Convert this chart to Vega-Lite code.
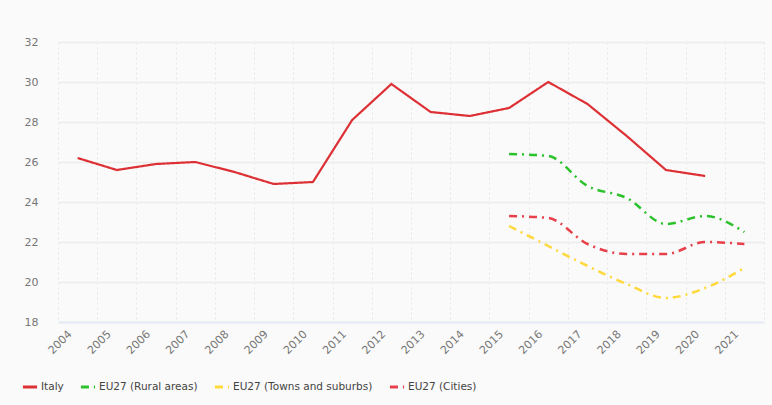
{
  "$schema": "https://vega.github.io/schema/vega-lite/v6.json",
  "autosize": "none",
  "width": 706,
  "height": 280,
  "padding": {"left": 58, "top": 42, "right": 8, "bottom": 83},
  "background": "#fafafa",
  "config": {
    "view": {"stroke": null, "fill": "#fafafa"},
    "font": "DejaVu Sans",
    "axis": {"labelColor": "#777777", "labelFontSize": 11, "titleColor": "#777777"}
  },
  "data": {
    "values": [
      {"year": "2004", "series": "Italy", "value": 26.2},
      {"year": "2005", "series": "Italy", "value": 25.6},
      {"year": "2006", "series": "Italy", "value": 25.9},
      {"year": "2007", "series": "Italy", "value": 26.0},
      {"year": "2008", "series": "Italy", "value": 25.5},
      {"year": "2009", "series": "Italy", "value": 24.9},
      {"year": "2010", "series": "Italy", "value": 25.0},
      {"year": "2011", "series": "Italy", "value": 28.1},
      {"year": "2012", "series": "Italy", "value": 29.9},
      {"year": "2013", "series": "Italy", "value": 28.5},
      {"year": "2014", "series": "Italy", "value": 28.3},
      {"year": "2015", "series": "Italy", "value": 28.7},
      {"year": "2016", "series": "Italy", "value": 30.0},
      {"year": "2017", "series": "Italy", "value": 28.9},
      {"year": "2018", "series": "Italy", "value": 27.3},
      {"year": "2019", "series": "Italy", "value": 25.6},
      {"year": "2020", "series": "Italy", "value": 25.3},
      {"year": "2015", "series": "EU27 (Rural areas)", "value": 26.4},
      {"year": "2016", "series": "EU27 (Rural areas)", "value": 26.3},
      {"year": "2017", "series": "EU27 (Rural areas)", "value": 24.8},
      {"year": "2018", "series": "EU27 (Rural areas)", "value": 24.2},
      {"year": "2019", "series": "EU27 (Rural areas)", "value": 22.9},
      {"year": "2020", "series": "EU27 (Rural areas)", "value": 23.3},
      {"year": "2021", "series": "EU27 (Rural areas)", "value": 22.5},
      {"year": "2015", "series": "EU27 (Towns and suburbs)", "value": 22.8},
      {"year": "2016", "series": "EU27 (Towns and suburbs)", "value": 21.8},
      {"year": "2017", "series": "EU27 (Towns and suburbs)", "value": 20.8},
      {"year": "2018", "series": "EU27 (Towns and suburbs)", "value": 19.9},
      {"year": "2019", "series": "EU27 (Towns and suburbs)", "value": 19.2},
      {"year": "2020", "series": "EU27 (Towns and suburbs)", "value": 19.7},
      {"year": "2021", "series": "EU27 (Towns and suburbs)", "value": 20.7},
      {"year": "2015", "series": "EU27 (Cities)", "value": 23.3},
      {"year": "2016", "series": "EU27 (Cities)", "value": 23.2},
      {"year": "2017", "series": "EU27 (Cities)", "value": 21.9},
      {"year": "2018", "series": "EU27 (Cities)", "value": 21.4},
      {"year": "2019", "series": "EU27 (Cities)", "value": 21.4},
      {"year": "2020", "series": "EU27 (Cities)", "value": 22.0},
      {"year": "2021", "series": "EU27 (Cities)", "value": 21.9}
    ]
  },
  "encoding": {
    "x": {
      "field": "year", "type": "ordinal", "bandPosition": 0.5,
      "scale": {"type": "band", "paddingInner": 0, "paddingOuter": 0},
      "axis": {
        "title": null, "labelAngle": -45, "labelAlign": "right", "labelBaseline": "top",
        "labelPadding": 6, "labelOffset": -12, "ticks": false, "tickSize": 0,
        "domainColor": "#e4ecf8", "domainWidth": 2,
        "grid": true, "tickBand": "extent", "gridColor": "#e6e6e6", "gridDash": [2, 3], "gridWidth": 1
      }
    },
    "y": {
      "field": "value", "type": "quantitative",
      "scale": {"domain": [18, 32], "nice": false, "zero": false},
      "axis": {
        "title": null, "values": [18, 20, 22, 24, 26, 28, 30, 32], "domain": false, "ticks": false, "tickSize": 0,
        "labelPadding": 20, "gridColor": "#ececec", "gridWidth": 1.5
      }
    },
    "color": {
      "field": "series", "type": "nominal",
      "scale": {
        "domain": ["Italy", "EU27 (Rural areas)", "EU27 (Towns and suburbs)", "EU27 (Cities)"],
        "range": ["#dd3035", "#2cc22c", "#ffd83a", "#e8404a"]
      },
      "legend": {
        "title": null, "orient": "none", "legendX": -37, "legendY": 336, "direction": "horizontal",
        "symbolType": "stroke", "symbolStrokeWidth": 3, "symbolSize": 200, "labelFontSize": 10.5,
        "labelColor": "#444444", "columnPadding": 10, "labelOffset": 2
      }
    },
    "strokeDash": {
      "field": "series", "type": "nominal",
      "scale": {
        "domain": ["Italy", "EU27 (Rural areas)", "EU27 (Towns and suburbs)", "EU27 (Cities)"],
        "range": [[1, 0], [8, 5, 2, 5], [8, 5, 2, 5], [8, 5, 2, 5]]
      },
      "legend": null
    }
  },
  "layer": [
    {
      "transform": [{"filter": "datum.series === 'Italy'"}],
      "mark": {"type": "line", "interpolate": "linear", "strokeWidth": 2.2}
    },
    {
      "transform": [{"filter": "datum.series !== 'Italy'"}],
      "mark": {"type": "line", "interpolate": "monotone", "strokeWidth": 2.5}
    }
  ]
}
